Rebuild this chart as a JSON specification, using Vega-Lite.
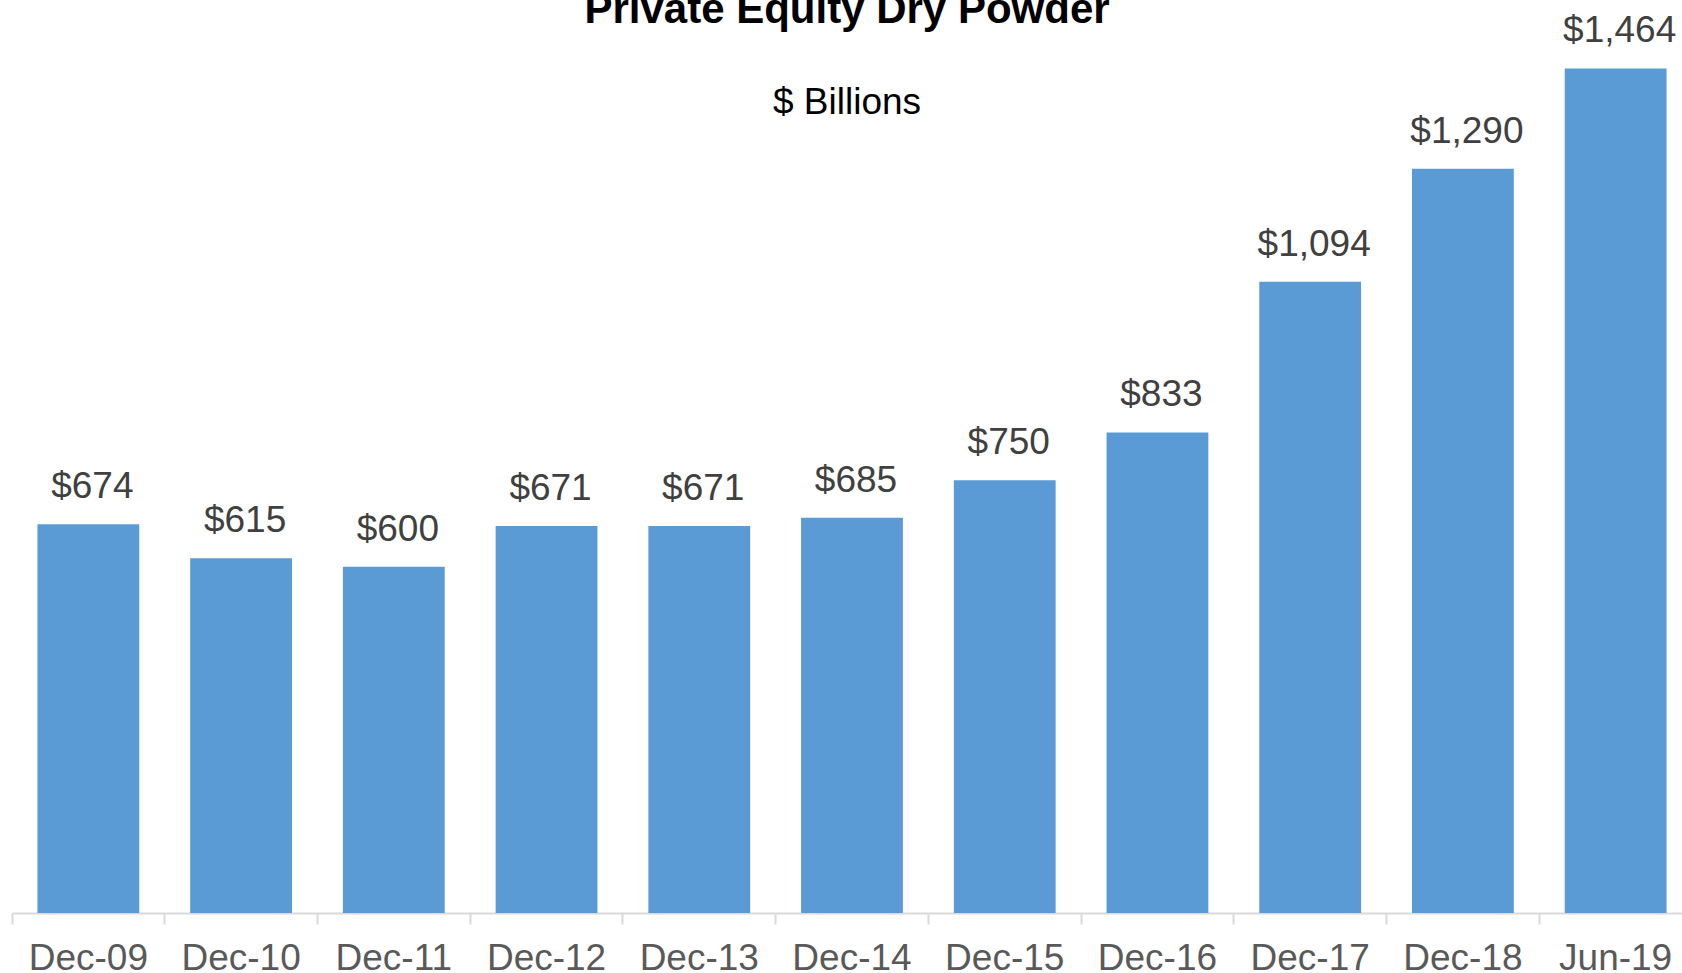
{
  "$schema": "https://vega.github.io/schema/vega-lite/v6.json",
  "autosize": {"type": "none"},
  "padding": {"left": 12, "top": 13, "right": 0, "bottom": 60},
  "width": 1680,
  "height": 900,
  "background": "white",
  "config": {"view": {"stroke": null}, "font": "Liberation Sans"},
  "title": {
    "text": "Private Equity Dry Powder",
    "subtitle": "$ Billions",
    "anchor": "middle",
    "font": "Liberation Sans",
    "fontSize": 42,
    "fontWeight": "bold",
    "color": "#000000",
    "subtitleFont": "Liberation Sans",
    "subtitleFontSize": 37,
    "subtitleColor": "#000000",
    "subtitlePadding": 53,
    "offset": -110,
    "dx": -5
  },
  "data": {
    "values": [
      {"period": "Dec-09", "value": 674},
      {"period": "Dec-10", "value": 615},
      {"period": "Dec-11", "value": 600},
      {"period": "Dec-12", "value": 671},
      {"period": "Dec-13", "value": 671},
      {"period": "Dec-14", "value": 685},
      {"period": "Dec-15", "value": 750},
      {"period": "Dec-16", "value": 833},
      {"period": "Dec-17", "value": 1094},
      {"period": "Dec-18", "value": 1290},
      {"period": "Jun-19", "value": 1464}
    ]
  },
  "encoding": {
    "x": {
      "field": "period",
      "type": "nominal",
      "sort": null,
      "scale": {"paddingInner": 0.3333, "paddingOuter": 0.1667},
      "axis": {
        "title": null,
        "labelAngle": 0,
        "labelFont": "Liberation Sans",
        "labelFontSize": 37,
        "labelColor": "#595959",
        "labelPadding": 16,
        "domainColor": "#d9d9d9",
        "domainWidth": 2,
        "tickColor": "#d9d9d9",
        "tickWidth": 2,
        "tickSize": 11,
        "bandPosition": -0.25
      }
    },
    "y": {
      "field": "value",
      "type": "quantitative",
      "scale": {"domain": [0, 1560], "nice": false},
      "axis": null
    }
  },
  "layer": [
    {"mark": {"type": "bar", "color": "#5B9BD5"}},
    {
      "mark": {
        "type": "text",
        "baseline": "alphabetic",
        "dy": -26,
        "dx": 4,
        "font": "Liberation Sans",
        "fontSize": 37,
        "color": "#404040"
      },
      "encoding": {
        "text": {"field": "value", "type": "quantitative", "format": "$,.0f"}
      }
    }
  ]
}
